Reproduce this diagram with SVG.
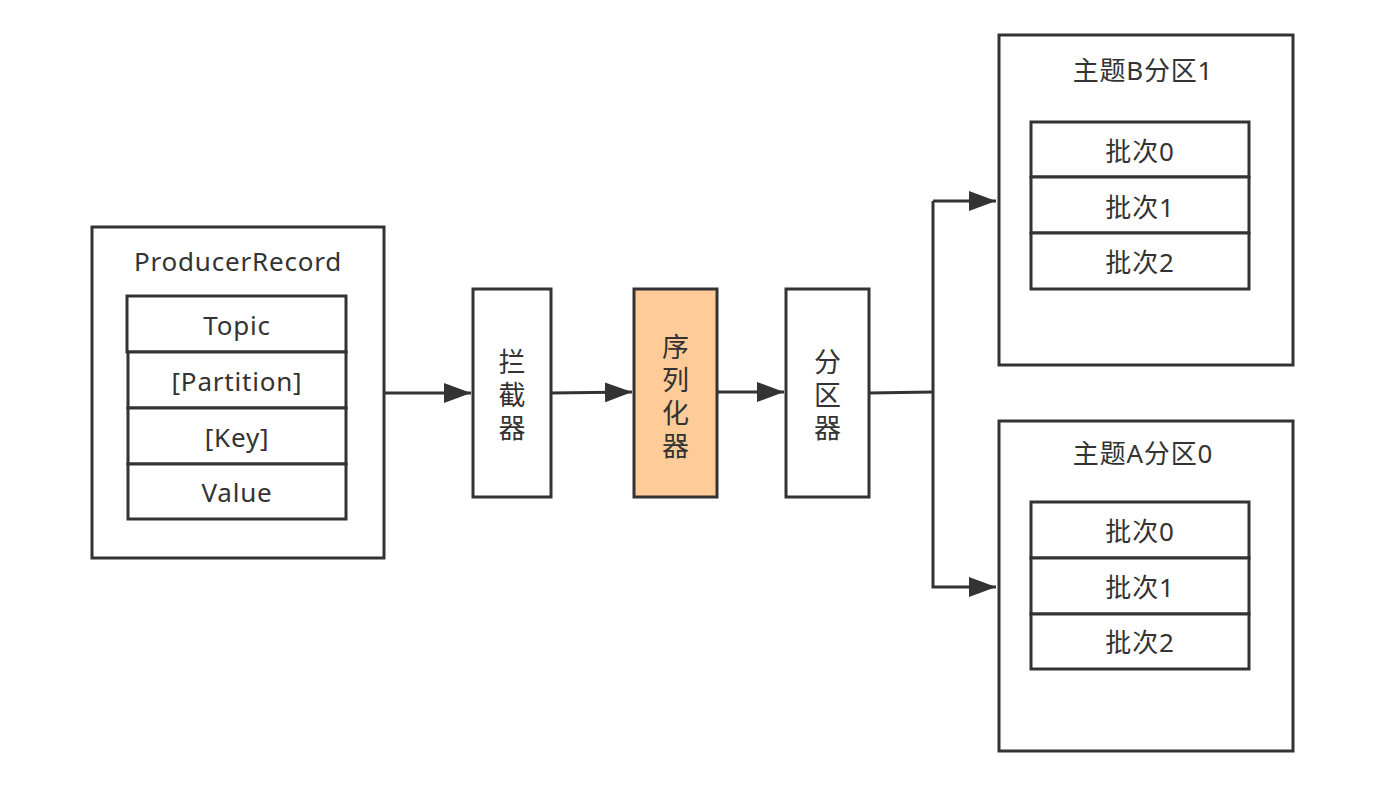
<svg xmlns="http://www.w3.org/2000/svg" width="1399" height="796" viewBox="0 0 1399 796">
<style>
.box{fill:#ffffff;stroke:#333333;stroke-width:3}
.ser{fill:#ffcc99;stroke:#333333;stroke-width:3}
.t{font-family:"Noto Sans","Noto Sans CJK SC",sans-serif;font-size:26px;letter-spacing:0.8px;fill:#333333;text-anchor:middle;dominant-baseline:central}
.v{font-family:"Noto Sans CJK SC",sans-serif;font-size:27px;letter-spacing:6px;fill:#333333;text-anchor:middle;writing-mode:vertical-rl}
.c{fill:none;stroke:#333333;stroke-width:3}
</style>
<defs>
<marker id="arr" viewBox="0 0 27 20" refX="27" refY="10" markerWidth="27" markerHeight="20" markerUnits="userSpaceOnUse" orient="auto">
<path d="M0,0 L27,10 L0,20 Z" fill="#333333"/>
</marker>
</defs>
<rect width="1399" height="796" fill="#ffffff"/>
<g id="connectors">
<path class="c" d="M384,393 L471,393" marker-end="url(#arr)"/>
<path class="c" d="M551,393 L632,392" marker-end="url(#arr)"/>
<path class="c" d="M717,392 L784,392" marker-end="url(#arr)"/>
<path class="c" d="M869,393 L933,392"/>
<path class="c" d="M933,201 L933,587 L996,587" marker-end="url(#arr)"/>
<path class="c" d="M933,201 L996,201" marker-end="url(#arr)"/>
</g>
<g id="producer-record">
<rect class="box" x="92" y="227" width="292" height="331"/>
<text class="t" x="238" y="261">ProducerRecord</text>
<rect class="box" x="127" y="296" width="219" height="56"/>
<text class="t" x="237" y="325">Topic</text>
<rect class="box" x="128" y="352" width="218" height="56"/>
<text class="t" x="237" y="381">[Partition]</text>
<rect class="box" x="128" y="408" width="218" height="56"/>
<text class="t" x="237" y="437">[Key]</text>
<rect class="box" x="128" y="464" width="218" height="55"/>
<text class="t" x="237" y="492">Value</text>
</g>
<g id="interceptor">
<rect class="box" x="473" y="289" width="78" height="208"/>
<text class="v" x="512" y="398">拦截器</text>
</g>
<g id="serializer">
<rect class="ser" x="634" y="289" width="83" height="208"/>
<text class="v" x="675.5" y="399">序列化器</text>
</g>
<g id="partitioner">
<rect class="box" x="786" y="289" width="83" height="208"/>
<text class="v" x="827.5" y="398">分区器</text>
</g>
<g id="topic-b-partition-1">
<rect class="box" x="999" y="35" width="294" height="330"/>
<text class="t" x="1143" y="70">主题B分区1</text>
<rect class="box" x="1031" y="122" width="218" height="55"/>
<text class="t" x="1140" y="151">批次0</text>
<rect class="box" x="1031" y="177" width="218" height="56"/>
<text class="t" x="1140" y="207">批次1</text>
<rect class="box" x="1031" y="233" width="218" height="56"/>
<text class="t" x="1140" y="262">批次2</text>
</g>
<g id="topic-a-partition-0">
<rect class="box" x="999" y="421" width="294" height="330"/>
<text class="t" x="1143" y="453">主题A分区0</text>
<rect class="box" x="1031" y="502" width="218" height="56"/>
<text class="t" x="1140" y="531">批次0</text>
<rect class="box" x="1031" y="558" width="218" height="56"/>
<text class="t" x="1140" y="587">批次1</text>
<rect class="box" x="1031" y="614" width="218" height="55"/>
<text class="t" x="1140" y="642">批次2</text>
</g>
</svg>
